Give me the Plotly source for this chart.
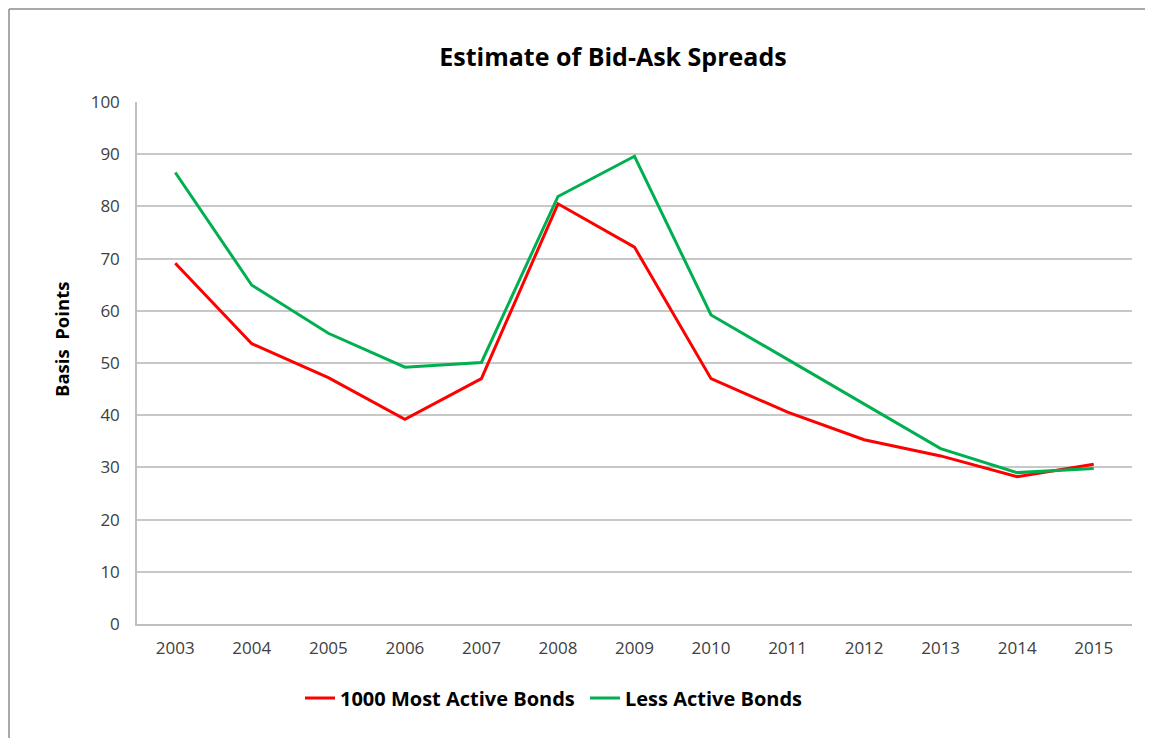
import plotly.graph_objects as go

years = ["2003", "2004", "2005", "2006", "2007", "2008", "2009", "2010", "2011", "2012", "2013", "2014", "2015"]
most_active = [69.1, 53.7, 47.2, 39.2, 47.0, 80.5, 72.2, 47.0, 40.6, 35.3, 32.2, 28.2, 30.6]
less_active = [86.5, 64.9, 55.7, 49.2, 50.1, 81.9, 89.6, 59.2, 50.7, 42.1, 33.6, 29.0, 29.8]
y_ticks = [0, 10, 20, 30, 40, 50, 60, 70, 80, 90, 100]
series_names = ["1000 Most Active Bonds", "Less Active Bonds"]

# page has an 8px body margin; work in page pixels and convert
OFF = 8
W, H = 1153 - OFF, 738 - OFF
L, R, T, B = 137 - OFF, 21, 102 - OFF, 738 - 624
pw, ph = W - L - R, H - T - B

fig = go.Figure()
fig.add_trace(go.Scatter(x=list(range(len(years))), y=most_active, mode="lines",
                         name="<b>%s</b>" % series_names[0], line=dict(color="#FF0000", width=3)))
fig.add_trace(go.Scatter(x=list(range(len(years))), y=less_active, mode="lines",
                         name="<b>%s</b>" % series_names[1], line=dict(color="#00B050", width=3)))

font_family = "'Open Sans', sans-serif"

def px_x(p):
    return (p - OFF - L) / pw

def px_y(p):
    return 1 - (p - OFF - T) / ph

shapes = [
    dict(type="line", xref="paper", yref="paper", x0=px_x(9), x1=px_x(9), y0=px_y(9), y1=px_y(740), line=dict(color="#8c8c8c", width=1.5)),
    dict(type="line", xref="paper", yref="paper", x0=px_x(9), x1=px_x(1160), y0=px_y(9), y1=px_y(9), line=dict(color="#8c8c8c", width=1.5)),
]

annotations = [
    dict(text="<b>Basis  Points</b>", textangle=-90, xref="paper", yref="paper",
         x=px_x(61), y=px_y(340), xanchor="center", yanchor="middle", showarrow=False,
         font=dict(family=font_family, size=18.5, color="#000000")),
]

fig.update_layout(
    width=W, height=H,
    margin=dict(l=L, r=R, t=T, b=B),
    paper_bgcolor="white", plot_bgcolor="white",
    title=dict(text="<b>Estimate of Bid-Ask Spreads</b>", x=(613 - OFF) / W, xanchor="center",
               y=1 - (57 - OFF) / H, yanchor="middle",
               font=dict(family=font_family, size=25, color="#000000")),
    xaxis=dict(range=[-0.5, len(years) - 0.5], tickmode="array",
               tickvals=list(range(len(years))), ticktext=years,
               showgrid=False, showline=True, linecolor="#BFBFBF", linewidth=1.5,
               ticks="", zeroline=False, ticklabelstandoff=8,
               tickfont=dict(family=font_family, size=17, color="#404040")),
    yaxis=dict(range=[0, 100], tickmode="array", tickvals=y_ticks,
               showgrid=True, gridcolor="#C8C8C8", gridwidth=1.5,
               showline=True, linecolor="#BFBFBF", linewidth=1.5,
               ticks="", ticklen=0, zeroline=False, ticklabelstandoff=12,
               tickfont=dict(family=font_family, size=17, color="#404040")),
    legend=dict(orientation="h", x=(300 - OFF) / W, xanchor="left", y=1 - (698 - OFF) / H, yanchor="middle",
                xref="container", yref="container",
                font=dict(family=font_family, size=20, color="#000000"),
                itemwidth=30, tracegroupgap=0, entrywidthmode="pixels", entrywidth=240),
    shapes=shapes,
    annotations=annotations,
    showlegend=True,
)

fig.write_html("out.html")
